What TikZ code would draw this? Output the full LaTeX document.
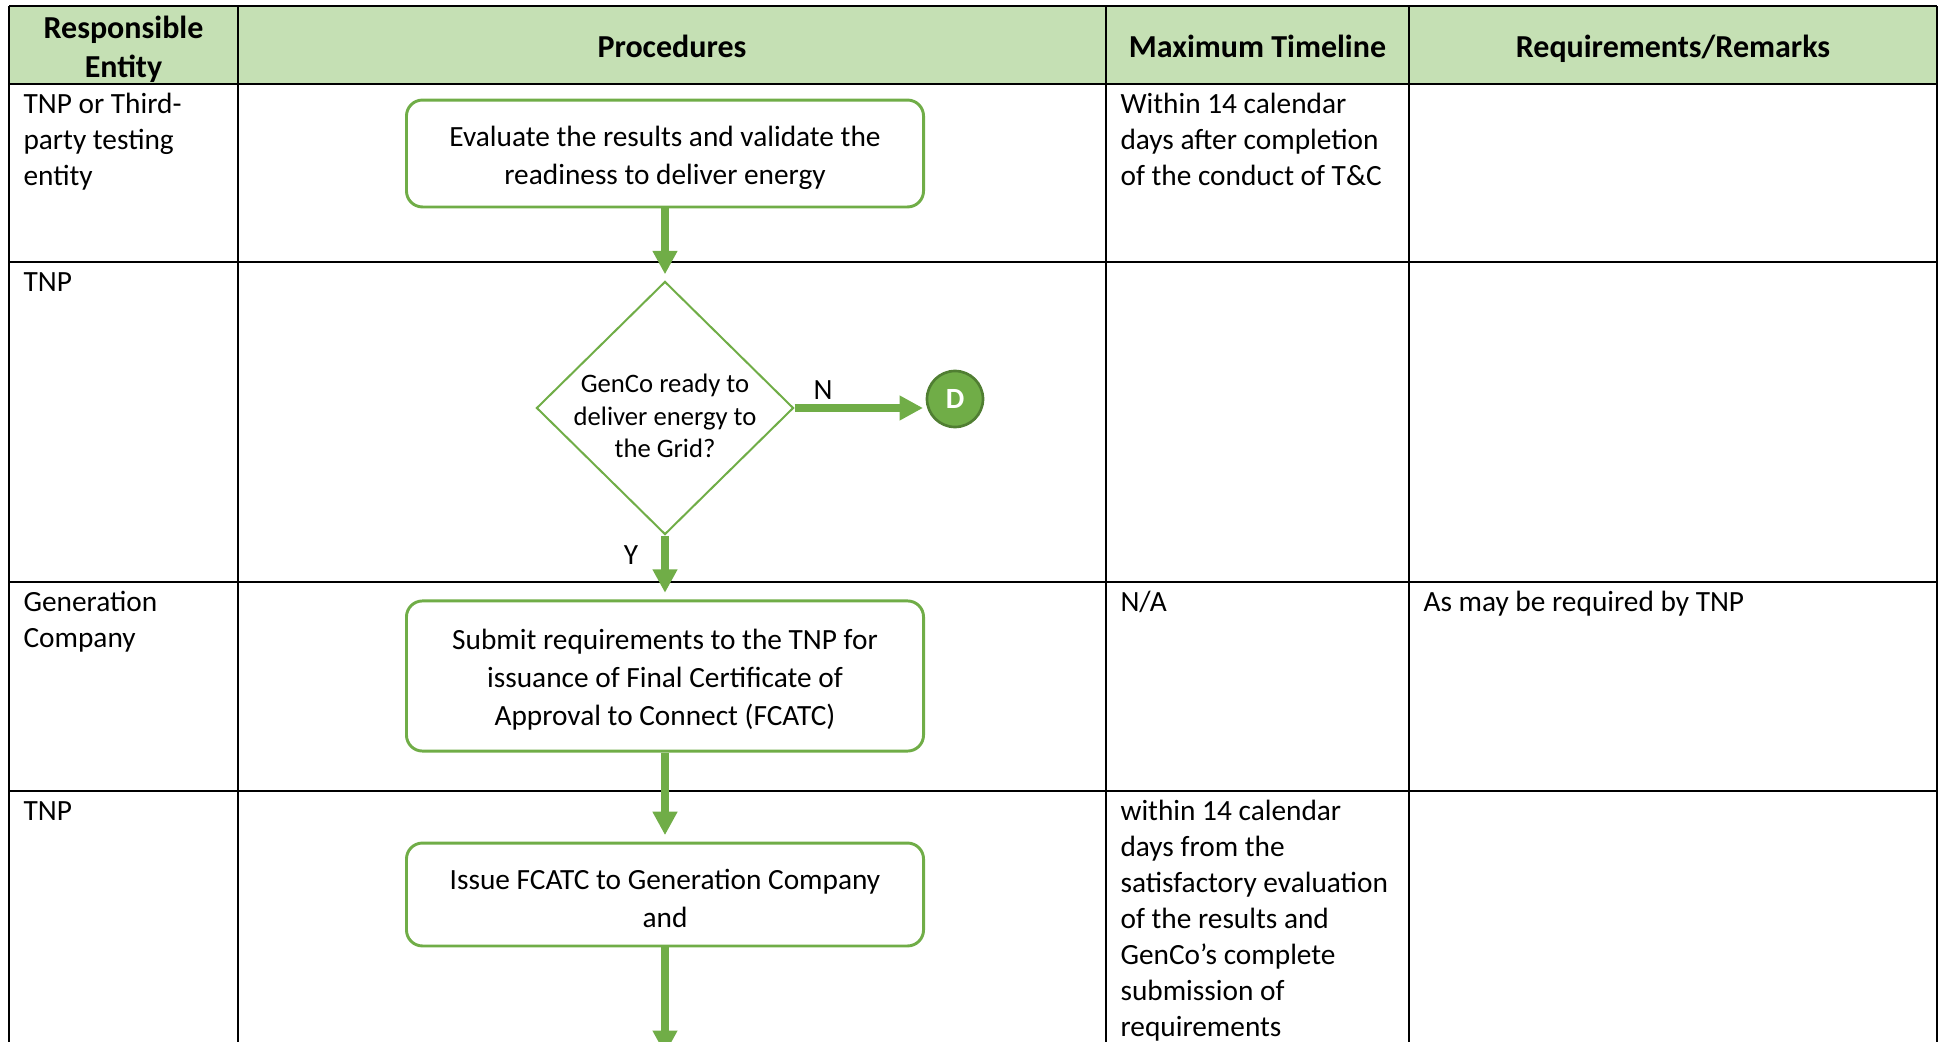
\documentclass[tikz,border=0pt]{standalone}
\usepackage{fontspec}
\setmainfont{Carlito}
\usepackage{tikz}
\usetikzlibrary{arrows.meta}
\usetikzlibrary{shapes.geometric}
\usetikzlibrary{positioning}
\definecolor{hdrgreen}{HTML}{C5E0B4}
\definecolor{flowgreen}{HTML}{70AD47}
\definecolor{darkgreen}{HTML}{507E32}
\newcommand{\procpad}{\rule{0pt}{10.6pt}}
\tikzstyle{head} = [align=center, inner sep=0pt, font=\fontsize{12}{14.6}\selectfont\bfseries]
\tikzstyle{cell} = [anchor=north west, align=left, inner sep=0pt, font=\fontsize{11}{13.5}\selectfont]
\tikzstyle{procbox} = [rectangle, rounded corners=6pt, draw=flowgreen, line width=1.1pt, fill=white, minimum width=193.9pt, align=center, font=\fontsize{11}{14.2}\selectfont]
\tikzstyle{decision} = [diamond, draw=flowgreen, line width=0.75pt, minimum width=96.4pt, minimum height=94.9pt, inner sep=0pt]
\tikzstyle{dtext} = [align=center, inner sep=0pt, font=\fontsize{10}{12.2}\selectfont]
\tikzstyle{offpage} = [circle, draw=darkgreen, line width=1pt, fill=flowgreen, minimum size=21pt, inner sep=0pt, text=white, font=\fontsize{11}{13}\selectfont\bfseries]
\tikzstyle{flowarrow} = [line width=2.9pt, draw=flowgreen, -{Triangle[length=8.8pt,width=8.8pt]}]
\tikzstyle{hline} = [line width=0.9pt]
\tikzstyle{vline} = [line width=0.5pt]

\begin{document}
\begin{tikzpicture}[x=0.375pt, y=-0.375pt]
    \useasboundingbox (0,0) rectangle (1941,1042);
    \clip (0,0) rectangle (1941,1042);
    \fill[hdrgreen] (9,6) rectangle (1937,84);
    \foreach \y in {6,84,262,582,791} \draw[hline] (9,\y) -- (1937,\y);
    \foreach \x in {9,238,1106,1409,1937} \draw[vline] (\x,6) -- (\x,1042);
    \node[head] (hentity) at (123.5,49.5) {Responsible\\Entity};
    \node[head, anchor=base] (hproc) at (672,57.5) {Procedures};
    \node[head, anchor=base] (htime) at (1257.5,57.5) {Maximum Timeline};
    \node[head, anchor=base] (hremark) at (1673,57.5) {Requirements/Remarks};
    \node[cell] (entity1) at (23,88) {\strut TNP or Third-\\party testing\\entity};
    \node[cell] (time1) at (1120,88) {\strut Within 14 calendar\\days after completion\\of the conduct of T\&C};
    \node[cell] (entity2) at (23,266) {\strut TNP};
    \node[cell] (entity3) at (23,586) {\strut Generation\\Company};
    \node[cell] (time3) at (1120,586) {\strut N/A};
    \node[cell] (remark3) at (1423,586) {\strut As may be required by TNP};
    \node[cell] (entity4) at (23,795) {\strut TNP};
    \node[cell] (time4) at (1120,795) {\strut within 14 calendar\\days from the\\satisfactory evaluation\\of the results and\\GenCo’s complete\\submission of\\requirements};
    \node[procbox, minimum height=40.1pt] (evaluate) at (665,153.5) {\procpad Evaluate the results and validate the\\readiness to deliver energy};
    \node[decision] (ready) at (665,408) {};
    \node[dtext] (readytext) at (665,416) {GenCo ready to\\deliver energy to\\the Grid?};
    \node[offpage] (goD) at (955,399) {D};
    \node[procbox, minimum height=56.3pt] (submit) at (665,676) {\procpad Submit requirements to the TNP for\\issuance of Final Certificate of\\Approval to Connect (FCATC)};
    \node[procbox, minimum height=38.6pt] (issue) at (665,894.5) {\procpad Issue FCATC to Generation Company\\and};
    \coordinate (next) at (665,1054);
    \draw[flowarrow, shorten >=2.3pt] (evaluate.south) -- (ready.north);
    \draw[flowarrow, shorten >=1pt] (ready.east) -- (goD.west |- ready.east);
    \node[font=\fontsize{11}{13}\selectfont] (nlabel) at (823,390) {N};
    \draw[flowarrow, shorten >=2.5pt] (ready.south) -- (submit.north);
    \node[font=\fontsize{11}{13}\selectfont] (ylabel) at (631,555) {Y};
    \draw[flowarrow, shorten >=2.4pt] (submit.south) -- (issue.north);
    \draw[flowarrow] (issue.south) -- (next);
\end{tikzpicture}
\end{document}
